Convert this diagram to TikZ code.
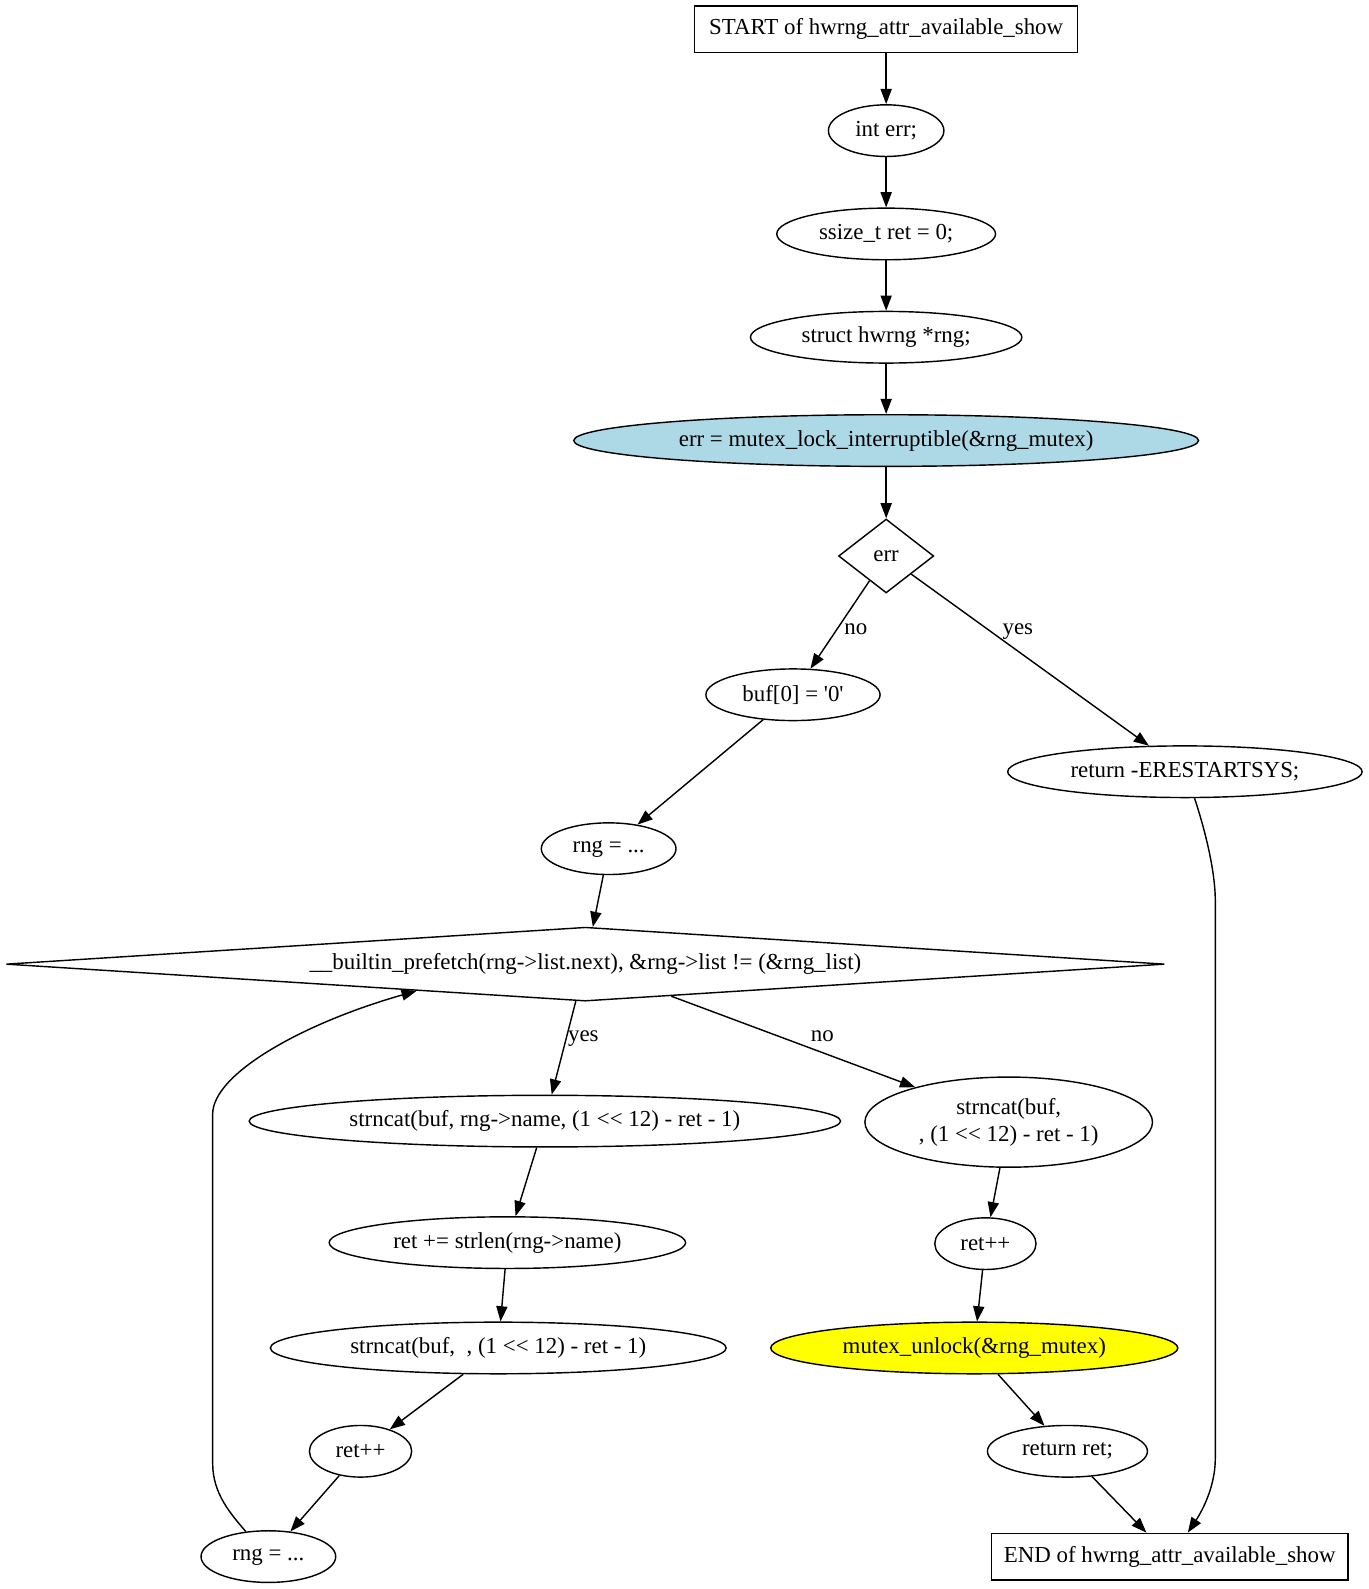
\documentclass[tikz,border=0pt]{standalone}
\usepackage{fontspec}
\setmainfont{Liberation Serif}
\usetikzlibrary{shapes.geometric,arrows.meta}
\definecolor{lblue}{RGB}{173,216,230}
\definecolor{yel}{RGB}{255,255,0}
\begin{document}
\begin{tikzpicture}[x=0.5pt,y=-0.5pt,
  every node/.style={font=\fontsize{11.3}{13.5}\selectfont},
  box/.style={draw, line width=0.7pt, rectangle, inner sep=0pt, minimum height=23pt},
  ell/.style={draw, line width=0.7pt, ellipse, inner sep=0pt, minimum height=25.5pt},
  dia/.style={draw, line width=0.7pt, diamond, inner sep=0pt},
  lbl/.style={inner sep=0pt, text depth=0pt},
  arr/.style={line width=0.7pt, -{Triangle[length=7.5pt,width=5.5pt]}}]
\useasboundingbox (0,0) rectangle (1351,1569);
\node[box, minimum width=189pt] (start) at (875,29) {START of hwrng\_attr\_available\_show};
\node[ell, minimum width=57pt] (interr) at (875,129) {int err;};
\node[ell, minimum width=108pt] (ssize) at (875,231) {ssize\_t ret = 0;};
\node[ell, minimum width=134pt] (struct) at (875,333) {struct hwrng *rng;};
\node[ell, minimum width=308.5pt, fill=lblue] (lock) at (875,435) {err = mutex\_lock\_interruptible(\&rng\_mutex)};
\node[dia, minimum width=47pt, minimum height=36.5pt] (err) at (875,549) {err};
\node[ell, minimum width=86pt] (buf0) at (783,686) {buf[0] = \textquotesingle 0\textquotesingle};
\node[ell, minimum width=175pt] (restart) at (1170,762) {return -ERESTARTSYS;};
\node[ell, minimum width=66.5pt] (rng1) at (601,838) {rng = ...};
\node[dia, aspect=14, minimum width=572pt, minimum height=36.5pt] (loop) at (578,952) {\_\_builtin\_prefetch(rng->list.next), \&rng->list != (\&rng\_list)};
\node[ell, minimum width=292pt] (s1) at (538,1107) {strncat(buf, rng->name, (1 <{}< 12) - ret - 1)};
\node[ell, minimum width=142pt, minimum height=44.5pt, align=center] (snl) at (996,1108) {strncat(buf,\\, (1 <{}< 12) - ret - 1)};
\node[ell, minimum width=176pt] (retlen) at (501,1227) {ret += strlen(rng->name)};
\node[ell, minimum width=50pt] (rppr) at (973,1228) {ret++};
\node[ell, minimum width=225pt] (s2) at (492,1331) {strncat(buf,\ \ , (1 <{}< 12) - ret - 1)};
\node[ell, minimum width=201pt, fill=yel] (unlock) at (962,1331) {mutex\_unlock(\&rng\_mutex)};
\node[ell, minimum width=50.5pt] (rppl) at (356,1433) {ret++};
\node[ell, minimum width=79pt] (rret) at (1054,1433) {return ret;};
\node[ell, minimum width=66.5pt] (rng2) at (265,1537) {rng = ...};
\node[box, minimum width=176pt] (end) at (1155,1537) {END of hwrng\_attr\_available\_show};
\node[lbl] (lno1) at (845,621) {no};
\node[lbl] (lyes1) at (1005,621) {yes};
\node[lbl] (lyes2) at (576,1023) {yes};
\node[lbl] (lno2) at (812,1023) {no};
\draw[arr] (start) -- (interr);
\draw[arr] (interr) -- (ssize);
\draw[arr] (ssize) -- (struct);
\draw[arr] (struct) -- (lock);
\draw[arr] (lock) -- (err);
\draw[arr] (err) -- (buf0);
\draw[arr] (err) -- (restart);
\draw[arr] (buf0) -- (rng1);
\draw[arr] (rng1) -- (loop);
\draw[arr] (loop) -- (s1);
\draw[arr] (loop) -- (snl);
\draw[arr] (s1) -- (retlen);
\draw[arr] (retlen) -- (s2);
\draw[arr] (s2) -- (rppl);
\draw[arr] (rppl) -- (rng2);
\draw[arr] (rng2.132) .. controls (228,1495) and (210,1475) .. (210,1445) -- (210,1100) .. controls (210,1060) and (300,1010) .. (loop.189.3);
\draw[arr] (snl) -- (rppr);
\draw[arr] (rppr) -- (unlock);
\draw[arr] (unlock) -- (rret);
\draw[arr] (rret) -- (end);
\draw[arr] (restart.-70) .. controls (1190,820) and (1200,860) .. (1200,890) -- (1200,1440) .. controls (1200,1470) and (1185,1495) .. (end.53);
\end{tikzpicture}
\end{document}
